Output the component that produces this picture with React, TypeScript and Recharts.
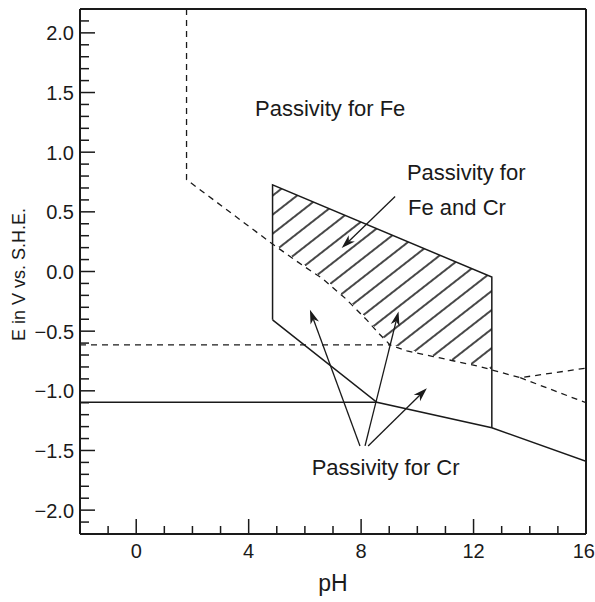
import {
  Area,
  ComposedChart,
  Line,
  ReferenceDot,
  ReferenceLine,
  XAxis,
  YAxis,
} from "recharts";

// Fe passivity boundary (dashed), from the top edge down to pH 16
const feBoundary = [
  { x: 1.79, y: 2.2 },
  { x: 1.79, y: 0.77 },
  { x: 4.85, y: 0.23 },
  { x: 5.89, y: 0.056 },
  { x: 6.6, y: -0.055 },
  { x: 7.43, y: -0.223 },
  { x: 8.2, y: -0.405 },
  { x: 8.62, y: -0.517 },
  { x: 9.03, y: -0.615 },
  { x: 9.63, y: -0.665 },
  { x: 10.57, y: -0.713 },
  { x: 11.41, y: -0.755 },
  { x: 12.24, y: -0.797 },
  { x: 12.65, y: -0.825 },
  { x: 13.66, y: -0.89 },
  { x: 16, y: -0.81 },
];
const feLowerBranch = [
  { x: 13.66, y: -0.89 },
  { x: 16, y: -1.1 },
];
const feHorizontal = [
  { x: -2, y: -0.615 },
  { x: 9.03, y: -0.615 },
];

// Cr passivity region (solid)
const crHorizontal = [
  { x: -2, y: -1.096 },
  { x: 8.56, y: -1.096 },
];
const crRegion = [
  { x: 4.85, y: -0.405 },
  { x: 4.85, y: 0.727 },
  { x: 12.65, y: -0.047 },
  { x: 12.65, y: -1.31 },
];
const crLower = [
  { x: 4.85, y: -0.405 },
  { x: 8.56, y: -1.096 },
  { x: 12.65, y: -1.31 },
  { x: 16, y: -1.59 },
];
const crTop = [
  { x: 4.85, y: 0.727 },
  { x: 12.65, y: -0.047 },
];
const feInside = feBoundary.filter((p) => p.x >= 4.85 && p.x <= 12.65);

const arrows = [
  { from: { x: 9.21, y: 0.629 }, to: { x: 7.31, y: 0.196 } },
  { from: { x: 7.96, y: -1.462 }, to: { x: 6.18, y: -0.321 } },
  { from: { x: 8.14, y: -1.462 }, to: { x: 9.33, y: -0.336 } },
  { from: { x: 8.25, y: -1.462 }, to: { x: 10.34, y: -0.978 } },
];

const notes = [
  { x: 4.225, y: 1.3, text: "Passivity for Fe" },
  { x: 9.63, y: 0.765, text: "Passivity for" },
  { x: 9.67, y: 0.476, text: "Fe and Cr" },
  { x: 6.24, y: -1.705, text: "Passivity for Cr" },
];

const xTicks = Array.from({ length: 19 }, (_, i) => i - 2);
const xLabels = [0, 4, 8, 12, 16];
const yTicks = Array.from({ length: 45 }, (_, i) => (i - 22) / 10);
const yLabels = [-2, -1.5, -1, -0.5, 0, 0.5, 1, 1.5, 2];

const INK = "#1a1a1a";
const FONT = "'Liberation Sans', Arial, sans-serif";

const XTick = ({ x, y, payload }: any) => {
  const v = payload.value;
  const major = xLabels.includes(v);
  // last label sits against the right edge of the figure
  const last = v === xLabels[xLabels.length - 1];
  return (
    <g>
      <line x1={x} x2={x} y1={y} y2={y - (major ? 15 : 8)} stroke={INK} strokeWidth={1.5} />
      {major && (
        <text
          x={last ? x + 9 : x}
          y={y + 24}
          textAnchor={last ? "end" : "middle"}
          fontSize={20}
          fontFamily={FONT}
          fill={INK}
        >
          {v}
        </text>
      )}
    </g>
  );
};

const YTick = ({ x, y, payload }: any) => {
  const v = payload.value;
  const major = yLabels.some((l) => Math.abs(l - v) < 1e-6);
  return (
    <g>
      <line x1={x} x2={x + (major ? 15 : 9)} y1={y} y2={y} stroke={INK} strokeWidth={1.5} />
      {major && (
        <text x={x - 6} y={y + 7.5} textAnchor="end" fontSize={20} fontFamily={FONT} fill={INK}>
          {v.toFixed(1).replace("-", "\u2212")}
        </text>
      )}
    </g>
  );
};

const Arrow = ({ x1, y1, x2, y2 }: any) => {
  const len = Math.hypot(x2 - x1, y2 - y1);
  const ux = (x2 - x1) / len;
  const uy = (y2 - y1) / len;
  const L = 14;
  const W = 4.5;
  const bx = x2 - ux * L;
  const by = y2 - uy * L;
  const nx = x2 - ux * (L - 4);
  const ny = y2 - uy * (L - 4);
  const head = [
    [x2, y2],
    [bx - uy * W, by + ux * W],
    [nx, ny],
    [bx + uy * W, by - ux * W],
  ]
    .map((p) => p.join(","))
    .join(" ");
  return (
    <g>
      <line x1={x1} y1={y1} x2={nx} y2={ny} stroke={INK} strokeWidth={1.3} />
      <polygon points={head} fill={INK} />
    </g>
  );
};

export default function App() {
  return (
    <div style={{ position: "absolute", left: 0, top: 0, background: "#fff" }}>
      <ComposedChart width={595} height={602} margin={{ top: 9, right: 9, left: 0, bottom: 8 }}>
        <defs>
          <pattern
            id="hatch"
            width="15"
            height="15"
            patternUnits="userSpaceOnUse"
            patternTransform="rotate(-38)"
          >
            <line x1="0" y1="7" x2="15" y2="7" stroke={INK} strokeWidth={1.6} />
          </pattern>
        </defs>
        <XAxis
          dataKey="x"
          type="number"
          domain={[-2, 16]}
          ticks={xTicks}
          interval={0}
          height={60}
          tickSize={0}
          tickMargin={0}
          tickLine={false}
          tick={<XTick />}
          axisLine={{ stroke: INK, strokeWidth: 2 }}
          allowDataOverflow
          label={{
            content: ({ viewBox }: any) => (
              <text
                x={viewBox.x + viewBox.width / 2}
                y={591}
                textAnchor="middle"
                fontSize={23}
                fontFamily={FONT}
                fill={INK}
              >
                pH
              </text>
            ),
          }}
        />
        <YAxis
          dataKey="y"
          type="number"
          domain={[-2.2, 2.2]}
          ticks={yTicks}
          interval={0}
          width={80}
          tickSize={0}
          tickMargin={0}
          tickLine={false}
          tick={<YTick />}
          axisLine={{ stroke: INK, strokeWidth: 2 }}
          allowDataOverflow
          label={{
            content: ({ viewBox }: any) => {
              const cy = viewBox.y + viewBox.height / 2 + 3;
              return (
                <text
                  x={18.5}
                  y={cy}
                  transform={`rotate(-90 18.5 ${cy})`}
                  textAnchor="middle"
                  dominantBaseline="central"
                  fontSize={18}
                  fontFamily={FONT}
                  fill={INK}
                >
                  E in V vs. S.H.E.
                </text>
              );
            },
          }}
        />

        {/* hatched band: fill under the Cr top edge, then blank out what lies under the Fe boundary */}
        <Area
          data={crTop}
          dataKey="y"
          type="linear"
          baseValue={-0.9}
          fill="url(#hatch)"
          fillOpacity={1}
          stroke="none"
          shapeRendering="crispEdges"
          isAnimationActive={false}
        />
        <Area
          data={feInside}
          dataKey="y"
          type="linear"
          baseValue={-0.9}
          fill="#fff"
          fillOpacity={1}
          stroke="#fff"
          strokeWidth={2}
          shapeRendering="crispEdges"
          isAnimationActive={false}
        />

        <Line data={feBoundary} dataKey="y" type="linear" stroke={INK} strokeWidth={1.3} strokeDasharray="6 5" dot={false} isAnimationActive={false} />
        <Line data={feLowerBranch} dataKey="y" type="linear" stroke={INK} strokeWidth={1.3} strokeDasharray="6 5" dot={false} isAnimationActive={false} />
        <Line data={feHorizontal} dataKey="y" type="linear" stroke={INK} strokeWidth={1.3} strokeDasharray="6 5" dot={false} isAnimationActive={false} />
        <Line data={crHorizontal} dataKey="y" type="linear" stroke={INK} strokeWidth={1.5} dot={false} isAnimationActive={false} />
        <Line data={crRegion} dataKey="y" type="linear" stroke={INK} strokeWidth={1.5} dot={false} isAnimationActive={false} />
        <Line data={crLower} dataKey="y" type="linear" stroke={INK} strokeWidth={1.5} dot={false} isAnimationActive={false} />

        {/* frame on the open sides */}
        <ReferenceLine x={16} stroke={INK} strokeWidth={2} />
        <ReferenceLine y={2.2} stroke={INK} strokeWidth={2} />

        {arrows.map((a, i) => (
          <ReferenceLine key={`a${i}`} segment={[a.from, a.to]} shape={(p: any) => <Arrow {...p} />} />
        ))}

        {notes.map((n, i) => (
          <ReferenceDot
            key={`n${i}`}
            x={n.x}
            y={n.y}
            r={0}
            shape={(p: any) => (
              <text x={p.cx} y={p.cy} fontSize={22} fontFamily={FONT} fill={INK}>
                {n.text}
              </text>
            )}
          />
        ))}
      </ComposedChart>
    </div>
  );
}
